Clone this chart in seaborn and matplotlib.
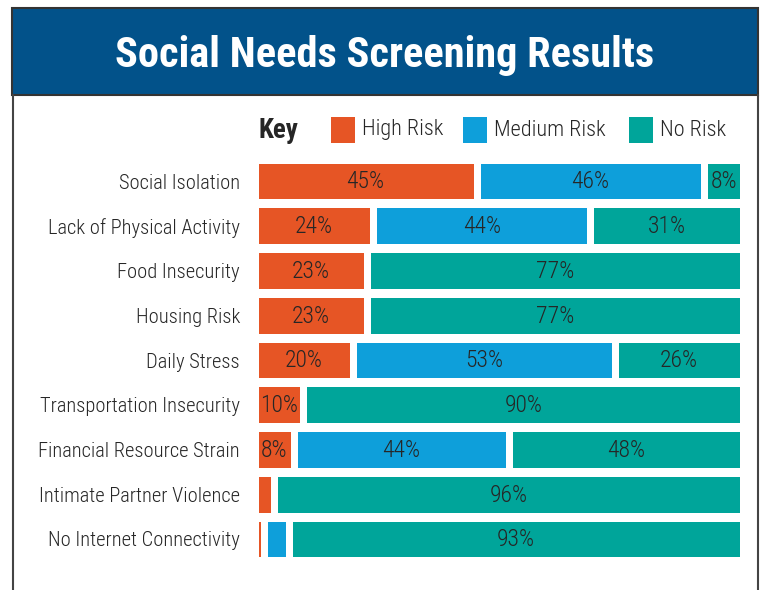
"""Social needs screening results as a stacked horizontal bar chart."""

import matplotlib
matplotlib.use("Agg")
import matplotlib.pyplot as plt
from matplotlib import font_manager
from matplotlib.patches import Rectangle
from matplotlib.lines import Line2D
import pandas as pd
import seaborn as sns

categories = [
    "Social Isolation",
    "Lack of Physical Activity",
    "Food Insecurity",
    "Housing Risk",
    "Daily Stress",
    "Transportation Insecurity",
    "Financial Resource Strain",
    "Intimate Partner Violence",
    "No Internet Connectivity",
]
high_risk = [45, 24, 23, 23, 20, 10, 8, 4, 2]
medium_risk = [46, 44, 0, 0, 53, 0, 44, 0, 5]
no_risk = [8, 31, 77, 77, 26, 90, 48, 96, 93]

series_names = ["High Risk", "Medium Risk", "No Risk"]
series_colors = ["#E65525", "#0E9FDA", "#00A59A"]
banner_color = "#02528A"
text_color = "#262626"
title = "Social Needs Screening Results"

sns.set_theme(style="white")

installed = {f.name for f in font_manager.fontManager.ttflist}
narrow = "Roboto Condensed" if "Roboto Condensed" in installed else "DejaVu Sans"
plt.rcParams["font.family"] = [narrow, "DejaVu Sans"]

# share of each row, so every bar runs the full width
df = pd.DataFrame({"category": categories, "high": high_risk,
                   "medium": medium_risk, "none": no_risk})
total = df[["high", "medium", "none"]].sum(axis=1)
for col in ["high", "medium", "none"]:
    df[col + "_pct"] = df[col] / total * 100
df["cum_high"] = df["high_pct"]
df["cum_medium"] = df["cum_high"] + df["medium_pct"]
df["cum_none"] = df["cum_medium"] + df["none_pct"]

W, H = 765, 590
fig = plt.figure(figsize=(W / 100, H / 100), dpi=100)

# axes placed in pixel terms: bars from x=258..740, rows centred 181..539
gap_px = 7
x0, x1 = 258 - gap_px / 2, 740 + gap_px / 2
row_step = (539 - 181) / 8
y_top, y_bot = 181 - row_step / 2, 539 + row_step / 2
ax = fig.add_axes([x0 / W, 1 - y_bot / H, (x1 - x0) / W, (y_bot - y_top) / H])

lw = gap_px * 72 / 100
for cum_col, color in zip(["cum_none", "cum_medium", "cum_high"], series_colors[::-1]):
    sns.barplot(data=df, y="category", x=cum_col, color=color, orient="h",
                width=0.96, saturation=1, edgecolor="white", linewidth=lw, ax=ax)

# percentage labels on segments wide enough to hold them
for i, row in df.iterrows():
    lefts = [0, row["cum_high"], row["cum_medium"]]
    for left, pct_col, raw_col in zip(lefts, ["high_pct", "medium_pct", "none_pct"],
                                      ["high", "medium", "none"]):
        if row[raw_col] >= 8:
            ax.text(left + row[pct_col] / 2, i + 0.02, f"{row[raw_col]}%", ha="center",
                    va="center", fontsize=17, fontweight="light", color=text_color)

ax.set_xlim(0, 100)
ax.set_ylim(len(categories) - 0.5, -0.5)
ax.set_xlabel("")
ax.set_ylabel("")
ax.set_xticks([])
ax.tick_params(axis="y", length=0, pad=10.5, labelsize=14.8, labelcolor=text_color)
for lab in ax.get_yticklabels():
    lab.set_fontweight("light")
sns.despine(ax=ax, left=True, bottom=True)

# title banner and frame
fig.patches.append(Rectangle((12 / W, 1 - 95 / H), (758 - 12) / W, 87 / H,
                             transform=fig.transFigure, facecolor=banner_color,
                             edgecolor="#333333", linewidth=1.5))
fig.text((12 + 758) / 2 / W, 1 - 56 / H, title, ha="center", va="center",
         color="white", fontsize=30.5, fontweight="bold")
for xf in [12.5, 758]:
    fig.lines.append(Line2D([xf / W, xf / W], [0, 1 - 95 / H], transform=fig.transFigure,
                            color="#444444", linewidth=1.5))

# key
fig.text(259 / W, 1 - 131 / H, "Key", ha="left", va="center", fontsize=19.5,
         fontweight="bold", color=text_color)
key_x = [331, 463, 629]
for name, color, kx in zip(series_names, series_colors, key_x):
    fig.patches.append(Rectangle((kx / W, 1 - 143 / H), 24 / W, 26 / H,
                                 transform=fig.transFigure, facecolor=color, edgecolor="none"))
    fig.text((kx + 31) / W, 1 - 130 / H, name, ha="left", va="center", fontsize=16,
             fontweight="light", color=text_color)

fig.savefig("out.png", dpi=100)
